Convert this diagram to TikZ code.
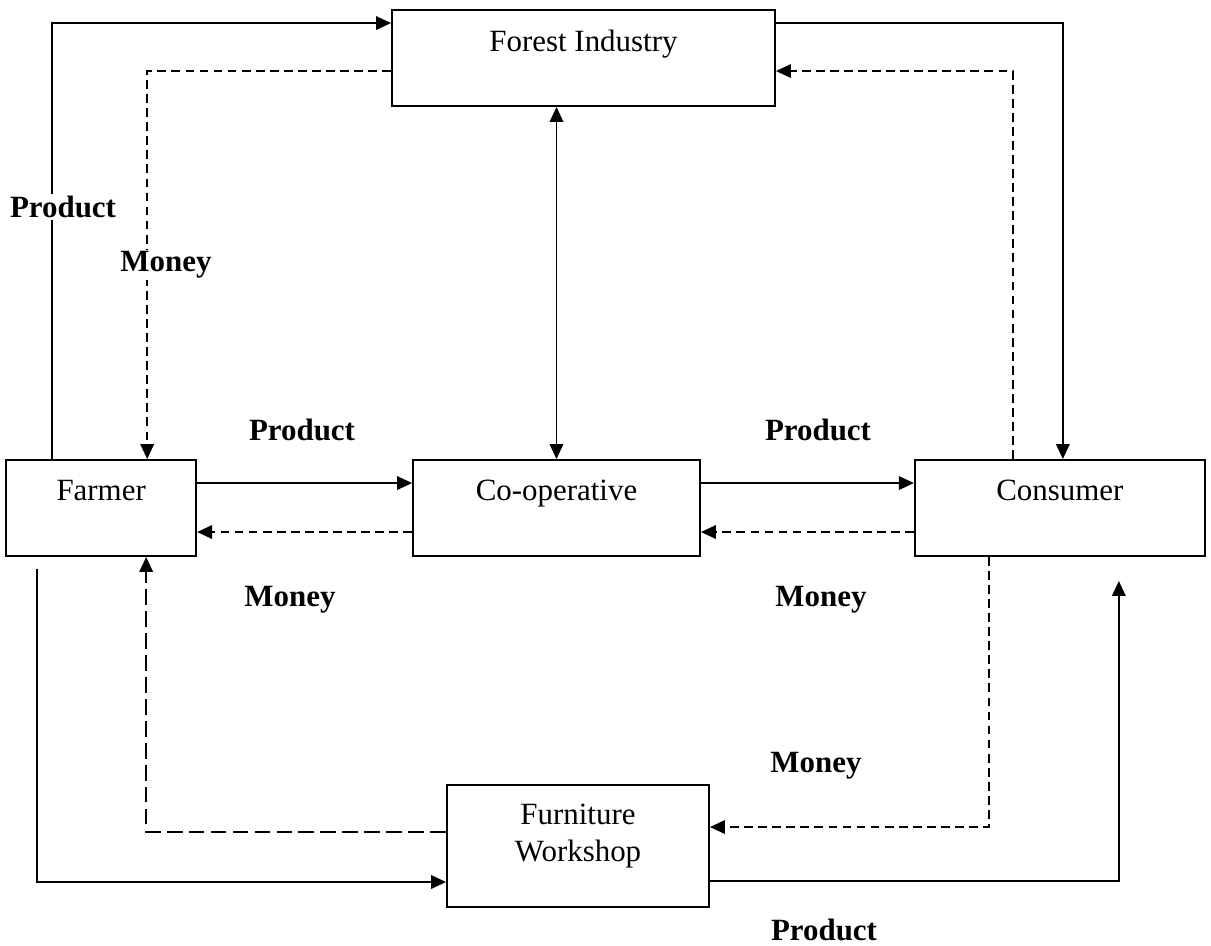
\documentclass[tikz,border=0pt]{standalone}
\usepackage{fontspec}
\setmainfont{Liberation Serif}
\usetikzlibrary{arrows.meta, positioning}

\begin{document}
\begin{tikzpicture}[
    x=0.02cm, y=-0.02cm,
    node distance=1cm and 4.3cm,
    >={Triangle[length=0.3cm, width=0.27cm]},
    box/.style={rectangle, draw, line width=1.1pt, minimum height=1.92cm, align=center, inner sep=0pt, text depth=0.7cm, font=\fontsize{17.6}{21}\selectfont},
    tag/.style={fill=white, inner sep=1pt, font=\fontsize{17.6}{21}\selectfont\bfseries},
    flow/.style={->, line width=1.1pt},
    money/.style={flow, dash pattern=on 5pt off 3pt},
    longmoney/.style={flow, dash pattern=on 9pt off 3.5pt},
  ]
  \useasboundingbox (0,0) rectangle (1211,946);

  % Actors
  \node[box, minimum width=5.74cm] (coop) at (556.5,508) {Co-operative};
  \node[box, minimum width=3.8cm, left=of coop] (farmer) {Farmer};
  \node[box, minimum width=5.8cm, right=4.26cm of coop] (consumer) {Consumer};
  \node[box, minimum width=7.66cm] (forest) at (583.5,58) {Forest Industry};
  \node[box, minimum width=5.24cm, minimum height=2.44cm, text depth=0.52cm] (furniture) at (578,846) {Furniture\\Workshop};

  % Top loop
  \draw[flow] ([xshift=0.94cm]farmer.north west) |- ([yshift=-0.28cm]forest.north west);
  \draw[money] ([yshift=-1.24cm]forest.north west) -| ([xshift=2.84cm]farmer.north west);
  \draw[flow] ([yshift=-0.28cm]forest.north east) -| ([xshift=2.98cm]consumer.north west);
  \draw[money] ([xshift=1.98cm]consumer.north west) |- ([yshift=-1.24cm]forest.north east);
  \draw[<->, line width=1.1pt] (coop.north) -- (coop.north |- forest.south);

  % Middle row
  \draw[flow] ([yshift=-0.48cm]farmer.north east) -- ([yshift=-0.48cm]coop.north west);
  \draw[money] ([yshift=-1.46cm]coop.north west) -- ([yshift=-1.46cm]farmer.north east);
  \draw[flow] ([yshift=-0.48cm]coop.north east) -- ([yshift=-0.48cm]consumer.north west);
  \draw[money] ([yshift=-1.46cm]consumer.north west) -- ([yshift=-1.46cm]coop.north east);

  % Bottom loop
  \draw[flow] ([xshift=0.64cm, yshift=-0.24cm]farmer.south west) |- ([yshift=-1.96cm]furniture.north west);
  \draw[longmoney] ([yshift=-0.96cm]furniture.north west) -| ([xshift=2.82cm]farmer.south west);
  \draw[money] ([xshift=1.5cm]consumer.south west) |- ([yshift=-0.86cm]furniture.north east);
  \draw[flow] ([yshift=-1.94cm]furniture.north east) -| ([xshift=4.1cm, yshift=-0.48cm]consumer.south west);

  % Labels
  \node[tag] (prodfarm) at (63,207) {Product};
  \node[tag] (monfarm) at (166,265) {Money};
  \node[tag] (prodcoop) at (302,430) {Product};
  \node[tag] (moncoop) at (290,600) {Money};
  \node[tag] (prodcons) at (818,430) {Product};
  \node[tag] (moncons) at (821,600) {Money};
  \node[tag] (monshop) at (816,766) {Money};
  \node[tag] (prodshop) at (824,930) {Product};
\end{tikzpicture}
\end{document}
